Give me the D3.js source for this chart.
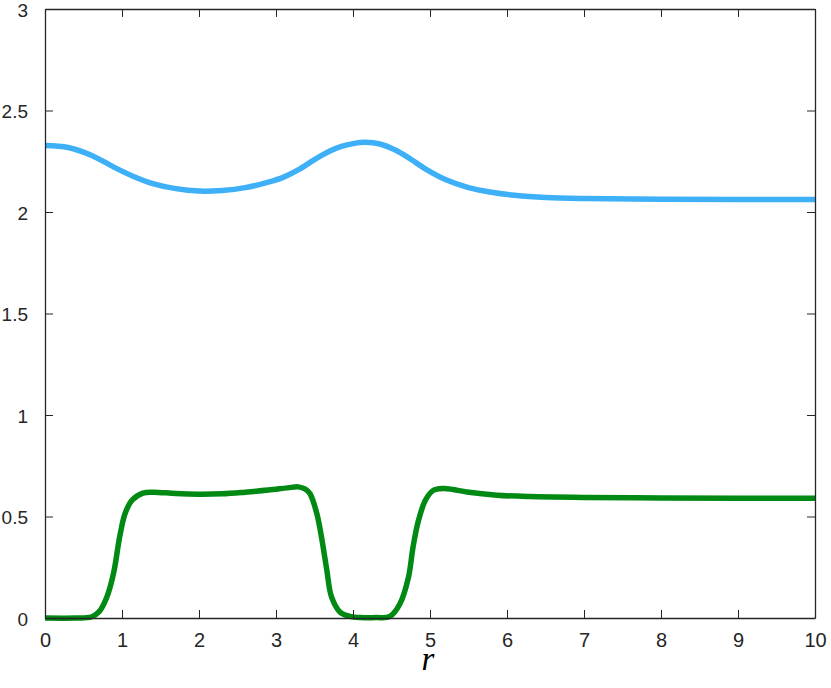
<!DOCTYPE html>
<html>
<head>
<meta charset="utf-8">
<script src="https://cdn.jsdelivr.net/npm/d3@7"></script>
<style>
  html, body { margin: 0; padding: 0; background: #fff; }
  svg { display: block; }
  .tick text { font-family: "Liberation Sans", Arial, Helvetica, sans-serif; fill: #262626; }
</style>
</head>
<body>
<svg id="chart" width="831" height="688"></svg>
<script>
// ---- data ----
const rBlue = [0, 0.3, 0.6, 0.9, 1.15, 1.4, 1.7, 2.0, 2.3, 2.6, 2.9, 3.1, 3.3, 3.5, 3.7, 3.85, 4.0, 4.16, 4.35, 4.55, 4.75, 4.95, 5.2, 5.5, 5.8, 6.1, 6.5, 7.0, 8.0, 9.0, 10];
const vBlue = [2.328, 2.318, 2.28, 2.22, 2.175, 2.14, 2.115, 2.103, 2.106, 2.12, 2.147, 2.172, 2.21, 2.258, 2.3, 2.323, 2.337, 2.343, 2.335, 2.305, 2.26, 2.21, 2.16, 2.12, 2.097, 2.082, 2.071, 2.066, 2.063, 2.062, 2.062];

const rGreen = [0, 0.4, 0.6, 0.7, 0.8, 0.89, 0.97, 1.04, 1.13, 1.27, 1.4, 1.7, 2.0, 2.3, 2.6, 2.9, 3.15, 3.29, 3.38, 3.44, 3.53, 3.59, 3.66, 3.72, 3.83, 3.96, 4.1, 4.3, 4.48, 4.61, 4.72, 4.78, 4.85, 4.94, 5.04, 5.17, 5.3, 5.48, 5.87, 6.3, 7, 8, 9, 10];
const vGreen = [0, 0, 0.005, 0.03, 0.1, 0.22, 0.40, 0.515, 0.58, 0.615, 0.62, 0.613, 0.61, 0.612, 0.62, 0.63, 0.641, 0.646, 0.635, 0.613, 0.515, 0.40, 0.236, 0.105, 0.03, 0.008, 0.002, 0.002, 0.008, 0.07, 0.2, 0.35, 0.48, 0.58, 0.628, 0.638, 0.633, 0.621, 0.605, 0.598, 0.594, 0.591, 0.59, 0.59];

const xTicks = [0, 1, 2, 3, 4, 5, 6, 7, 8, 9, 10];
const yTicks = [0, 0.5, 1, 1.5, 2, 2.5, 3];
const yTickLabels = ["0", "0.5", "1", "1.5", "2", "2.5", "3"];

// ---- layout ----
const svg = d3.select("#chart");
const L = 45, R = 815, T = 9, B = 618;
const x = d3.scaleLinear().domain([0, 10]).range([L, R]);
const y = d3.scaleLinear().domain([0, 3]).range([B, T]);
const axisColor = "#262626";
const tickLen = 8;

// lines
const line = d3.line().x(d => x(d[0])).y(d => y(d[1])).curve(d3.curveCatmullRom.alpha(0.5));
svg.append("path")
  .datum(rBlue.map((r, i) => [r, vBlue[i]]))
  .attr("d", line).attr("fill", "none")
  .attr("stroke", "#3db0f8").attr("stroke-width", 5.5).attr("stroke-linejoin", "round");
svg.append("path")
  .datum(rGreen.map((r, i) => [r, vGreen[i]]))
  .attr("d", line).attr("fill", "none")
  .attr("stroke", "#008a13").attr("stroke-width", 5.5).attr("stroke-linejoin", "round");

// axes
const xAxis = d3.axisBottom(x).tickValues(xTicks).tickSizeInner(-tickLen).tickSizeOuter(0).tickPadding(15).tickFormat(d3.format("d"));
const gx = svg.append("g").attr("transform", `translate(0,${B})`).call(xAxis);
const yAxis = d3.axisLeft(y).tickValues(yTicks).tickSizeInner(-tickLen).tickSizeOuter(0).tickPadding(17).tickFormat((d, i) => yTickLabels[i]);
const gy = svg.append("g").attr("transform", `translate(${L},0)`).call(yAxis);
// mirrored ticks (top/right)
const xTop = d3.axisTop(x).tickValues(xTicks).tickSizeInner(-tickLen).tickSizeOuter(0).tickFormat("");
const gxt = svg.append("g").attr("transform", `translate(0,${T})`).call(xTop);
const yRight = d3.axisRight(y).tickValues(yTicks).tickSizeInner(-tickLen).tickSizeOuter(0).tickFormat("");
const gyr = svg.append("g").attr("transform", `translate(${R},0)`).call(yRight);

[gx, gy, gxt, gyr].forEach(g => {
  g.selectAll(".domain").attr("stroke", axisColor).attr("stroke-width", 1.3);
  g.selectAll(".tick line").attr("stroke", axisColor).attr("stroke-width", 1);
  g.selectAll(".tick text").attr("fill", axisColor);
});
gx.selectAll(".tick text").attr("dy", "0.71em").style("font-size", "20px");
gy.selectAll(".tick text").attr("dy", "0.38em").style("font-size", "19px");

// x label
svg.append("text")
  .attr("x", (L + R) / 2 - 2).attr("y", 670)
  .attr("text-anchor", "middle")
  .style("font-family", "'Liberation Serif', 'Times New Roman', serif")
  .style("font-style", "italic")
  .style("font-size", "33px")
  .attr("fill", "#000")
  .text("r");
</script>
</body>
</html>
